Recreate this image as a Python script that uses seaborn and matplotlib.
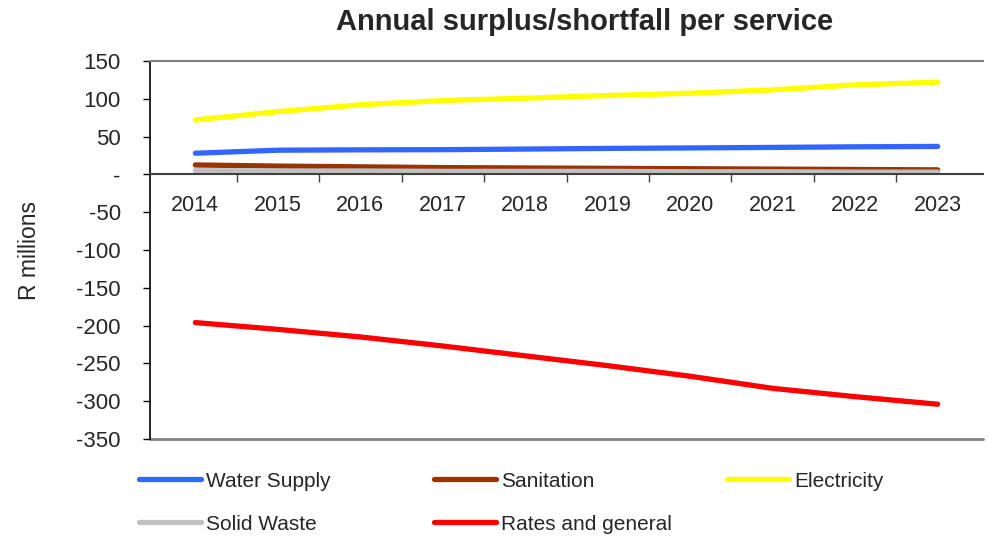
import numpy as np
import pandas as pd
import seaborn as sns
import matplotlib.pyplot as plt
from matplotlib.ticker import FixedLocator, FuncFormatter

sns.set_style('white')
plt.rcParams['font.family'] = ['Liberation Sans', 'DejaVu Sans']

# data (R millions)
years = ['2014', '2015', '2016', '2017', '2018', '2019', '2020', '2021', '2022', '2023']
water_supply = [28, 32, 32.5, 32.7, 33.5, 34.4, 35, 35.7, 36.5, 37]
sanitation = [12.5, 11, 10, 9, 8.5, 8, 7.5, 7, 6.5, 6]
electricity = [72, 83, 92, 97.7, 100.8, 104.3, 107.4, 111.8, 118.4, 122]
solid_waste = [5, 4.5, 4.5, 4, 4, 4, 3.5, 3.5, 3, 3]
rates_general = [-196, -205, -215, -227, -240, -253, -267, -283, -294, -304]

series = {
    'Electricity': electricity,
    'Water Supply': water_supply,
    'Sanitation': sanitation,
    'Solid Waste': solid_waste,
    'Rates and general': rates_general,
}
colors = {
    'Water Supply': '#3366FF',
    'Sanitation': '#993300',
    'Electricity': '#FFFF00',
    'Solid Waste': '#C0C0C0',
    'Rates and general': '#FF0000',
}

rows = []
for name, vals in series.items():
    for i, v in enumerate(vals):
        rows.append({'pos': i, 'year': years[i], 'service': name, 'value': v})
df = pd.DataFrame(rows)

fig = plt.figure(figsize=(9.89, 5.36), dpi=100)
ax = fig.add_axes([150 / 989, 1 - 439 / 536, (983 - 150) / 989, (439 - 61) / 536])

sns.lineplot(data=df, x='pos', y='value', hue='service', palette=colors,
             linewidth=3.8, ax=ax, legend=False, solid_capstyle='round')

ax.set_xlim(-0.55, len(years) - 0.45)
ax.set_ylim(-350, 150)
ax.set_yticks(np.arange(-350, 151, 50))
ax.yaxis.set_major_formatter(FuncFormatter(lambda v, p: '-' if v == 0 else f'{int(v)}'))
ax.tick_params(axis='y', direction='out', length=5, width=1, color='black', labelsize=16, pad=16, left=True)

# x axis sits on the zero line, labels between tick marks
ax.spines['bottom'].set_position(('data', 0))
ax.spines['bottom'].set_color('#404040')
ax.spines['bottom'].set_linewidth(1.5)
ax.set_xticks(range(len(years)))
ax.set_xticklabels(years)
ax.tick_params(axis='x', which='major', length=0, labelsize=15.5, pad=15)
ax.xaxis.set_minor_locator(FixedLocator(np.arange(0.5, len(years) - 1, 1)))
ax.tick_params(axis='x', which='minor', direction='out', length=6, width=1, color='#404040', bottom=True)

ax.spines['left'].set_color('black')
ax.spines['left'].set_linewidth(1.2)
ax.spines['right'].set_visible(False)
ax.spines['top'].set_color('#808080')
ax.spines['top'].set_linewidth(1.5)
# bottom frame line of plot area
ax.axhline(-350, color='#808080', linewidth=2, clip_on=False)

ax.set_xlabel('')
ax.set_ylabel('R millions', fontsize=16.5)
ax.yaxis.set_label_coords(-0.131, 0.5)
fig.text(585 / 989, 1 - 22 / 536, 'Annual surplus/shortfall per service',
         ha='center', va='center', fontsize=21, fontweight='bold')

# legend: three columns placed like the original
columns = [(['Water Supply', 'Solid Waste'], 120),
           (['Sanitation', 'Rates and general'], 415),
           (['Electricity'], 708)]
for names, x0 in columns:
    handles = [plt.Line2D([], [], color=colors[n], linewidth=3.8) for n in names]
    fig.legend(handles, names, frameon=False, loc='upper left',
               bbox_to_anchor=(x0 / 989, 1 - 453 / 536), fontsize=15,
               handlelength=3.0, handletextpad=0.25, labelspacing=1.15)

fig.savefig('out.png', dpi=100)
